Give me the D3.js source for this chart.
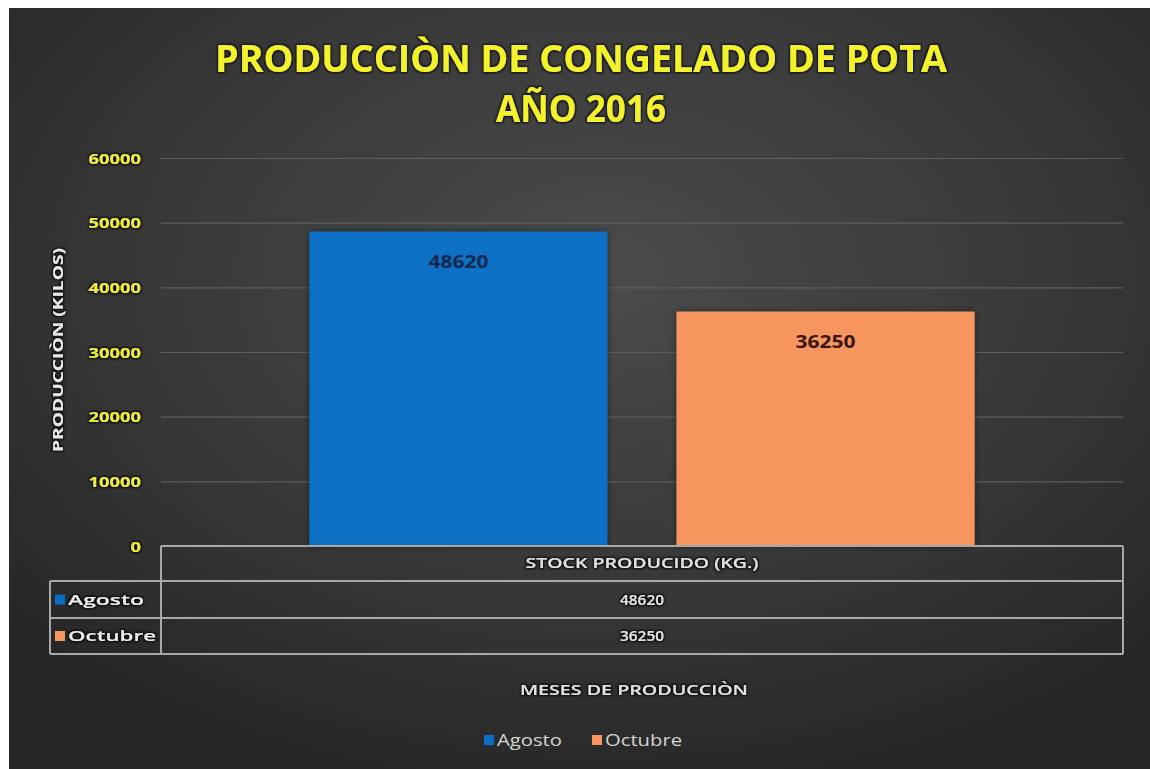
<!DOCTYPE html>
<html>
<head>
<meta charset="utf-8">
<script src="https://cdn.jsdelivr.net/npm/d3@7"></script>
<style>
  html, body { margin: 0; padding: 0; background: #ffffff; }
  svg { display: block; }
  text { font-family: "Open Sans", "DejaVu Sans", sans-serif; }
</style>
</head>
<body>
<svg id="chart" width="1150" height="769"></svg>
<script>
// Chart data
const titleLines = ["PRODUCCIÒN DE CONGELADO DE POTA", "AÑO 2016"];
const category = ["STOCK PRODUCIDO (KG.)"];
const seriesNames = ["Agosto", "Octubre"];
const seriesValues = [48620, 36250];
const seriesColors = ["#0a6fc4", "#f7955f"];
const labelColors = ["#13294d", "#3a1606"];
const yTicks = [0, 10000, 20000, 30000, 40000, 50000, 60000];
const yTitle = "PRODUCCIÒN (KILOS)";
const xTitle = "MESES DE PRODUCCIÒN";

const svg = d3.select("#chart");
const defs = svg.append("defs");

// Dark radial backdrop
const grad = defs.append("radialGradient").attr("id", "bg")
  .attr("cx", "52%").attr("cy", "35%").attr("r", "70%");
grad.append("stop").attr("offset", "0%").attr("stop-color", "#4b4b4b");
grad.append("stop").attr("offset", "55%").attr("stop-color", "#393939");
grad.append("stop").attr("offset", "100%").attr("stop-color", "#262626");

// Soft dark outline for yellow and white text
const glow = defs.append("filter").attr("id", "glow")
  .attr("x", "-10%").attr("y", "-30%").attr("width", "120%").attr("height", "160%");
glow.append("feMorphology").attr("in", "SourceAlpha").attr("operator", "dilate").attr("radius", 1.2).attr("result", "d");
glow.append("feGaussianBlur").attr("in", "d").attr("stdDeviation", 1.2).attr("result", "b");
glow.append("feFlood").attr("flood-color", "#000000").attr("flood-opacity", 0.85);
glow.append("feComposite").attr("in2", "b").attr("operator", "in").attr("result", "s");
const gm = glow.append("feMerge");
gm.append("feMergeNode").attr("in", "s");
gm.append("feMergeNode").attr("in", "SourceGraphic");

// Bar shadow
const shadow = defs.append("filter").attr("id", "shadow")
  .attr("x", "-10%").attr("y", "-10%").attr("width", "120%").attr("height", "120%");
shadow.append("feGaussianBlur").attr("in", "SourceAlpha").attr("stdDeviation", 3).attr("result", "b");
shadow.append("feFlood").attr("flood-color", "#000").attr("flood-opacity", 0.5);
shadow.append("feComposite").attr("in2", "b").attr("operator", "in").attr("result", "s");
const sm = shadow.append("feMerge");
sm.append("feMergeNode").attr("in", "s");
sm.append("feMergeNode").attr("in", "SourceGraphic");

svg.append("rect").attr("x", 9).attr("y", 8).attr("width", 1141).attr("height", 761)
  .attr("fill", "url(#bg)");

// Title
svg.selectAll("text.title").data(titleLines).join("text")
  .attr("class", "title")
  .attr("x", 581).attr("y", (d, i) => 72 + i * 50)
  .attr("text-anchor", "middle")
  .attr("font-size", 37).attr("font-weight", 700)
  .attr("fill", "#f4f22c")
  .attr("filter", "url(#glow)")
  .attr("textLength", (d, i) => i === 0 ? 732 : 170)
  .attr("lengthAdjust", "spacingAndGlyphs")
  .text(d => d);

// Plot geometry
const plot = { left: 161, right: 1123, top: 158, bottom: 546 };

const y = d3.scaleLinear().domain([0, 60000]).range([plot.bottom, plot.top]);
const x0 = d3.scaleBand().domain(category).range([plot.left, plot.right]).paddingInner(0).paddingOuter(0.223);
const x1 = d3.scaleBand().domain(seriesNames).range([0, x0.bandwidth()]).paddingInner(0.188).paddingOuter(0);

// Gridlines
const yAxis = d3.axisLeft(y).tickValues(yTicks).tickSize(-(plot.right - plot.left)).tickFormat(d => d);
const ga = svg.append("g").attr("transform", `translate(${plot.left},0)`).call(yAxis);
ga.select(".domain").remove();
ga.selectAll(".tick line").attr("stroke", "#5c5c5c").attr("stroke-width", 1.2)
  .filter(d => d === 0).remove();
ga.selectAll(".tick text")
  .attr("x", -20).attr("dy", "0.35em")
  .attr("font-size", 15).attr("font-weight", 700)
  .attr("fill", "#eded3a").attr("filter", "url(#glow)")
  .attr("font-family", "'Open Sans', sans-serif")
  .attr("textLength", d => String(d).length * 10.5)
  .attr("lengthAdjust", "spacingAndGlyphs");

// Y axis title
svg.append("text")
  .attr("transform", `translate(63,350) rotate(-90)`)
  .attr("text-anchor", "middle")
  .attr("font-size", 15).attr("font-weight", 700)
  .attr("fill", "#e6e6e6").attr("filter", "url(#glow)")
  .attr("textLength", 204).attr("lengthAdjust", "spacingAndGlyphs")
  .text(yTitle);

// Bars
const bars = svg.append("g");
seriesNames.forEach((s, i) => {
  const bx = x0(category[0]) + x1(s);
  bars.append("rect")
    .attr("x", bx).attr("y", y(seriesValues[i]))
    .attr("width", x1.bandwidth()).attr("height", y(0) - y(seriesValues[i]))
    .attr("fill", seriesColors[i]).attr("filter", "url(#shadow)");
  bars.append("text")
    .attr("x", bx + x1.bandwidth() / 2).attr("y", y(seriesValues[i]) + 36)
    .attr("text-anchor", "middle")
    .attr("font-size", 17).attr("font-weight", 700)
    .attr("fill", labelColors[i])
    .attr("textLength", 60).attr("lengthAdjust", "spacingAndGlyphs")
    .text(seriesValues[i]);
});

// Data table
const rowH = [35, 37, 36];
const rowY = [plot.bottom, plot.bottom + rowH[0], plot.bottom + rowH[0] + rowH[1]];
const tableBottom = rowY[2] + rowH[2];
const legendLeft = 50;
const tbl = svg.append("g").attr("stroke", "#a8a8a8").attr("stroke-width", 2).attr("fill", "none");
tbl.append("line").attr("x1", plot.left).attr("x2", plot.right).attr("y1", rowY[0]).attr("y2", rowY[0]);
tbl.append("line").attr("x1", legendLeft).attr("x2", plot.right).attr("y1", rowY[1]).attr("y2", rowY[1]);
tbl.append("line").attr("x1", legendLeft).attr("x2", plot.right).attr("y1", rowY[2]).attr("y2", rowY[2]);
tbl.append("line").attr("x1", legendLeft).attr("x2", plot.right).attr("y1", tableBottom).attr("y2", tableBottom);
tbl.append("line").attr("x1", plot.left).attr("x2", plot.left).attr("y1", rowY[0]).attr("y2", tableBottom);
tbl.append("line").attr("x1", plot.right).attr("x2", plot.right).attr("y1", rowY[0]).attr("y2", tableBottom);
tbl.append("line").attr("x1", legendLeft).attr("x2", legendLeft).attr("y1", rowY[1]).attr("y2", tableBottom);

const cx = (plot.left + plot.right) / 2;
svg.append("text")
  .attr("x", cx).attr("y", rowY[0] + rowH[0] / 2).attr("dy", "0.35em")
  .attr("text-anchor", "middle").attr("font-size", 14).attr("font-weight", 600)
  .attr("fill", "#e2e2e2").attr("filter", "url(#glow)")
  .attr("textLength", 233).attr("lengthAdjust", "spacingAndGlyphs")
  .text(category[0]);

seriesNames.forEach((s, i) => {
  const ry = rowY[i + 1] + rowH[i + 1] / 2;
  svg.append("text")
    .attr("x", cx).attr("y", ry).attr("dy", "0.35em")
    .attr("text-anchor", "middle").attr("font-size", 15).attr("font-weight", 600)
    .attr("fill", "#e2e2e2").attr("filter", "url(#glow)")
    .attr("textLength", 44).attr("lengthAdjust", "spacingAndGlyphs")
    .text(seriesValues[i]);
  svg.append("rect")
    .attr("x", 55).attr("y", ry - 5).attr("width", 10).attr("height", 10)
    .attr("fill", seriesColors[i]);
  svg.append("text")
    .attr("x", 68).attr("y", ry).attr("dy", "0.35em")
    .attr("font-size", 15).attr("font-weight", 600)
    .attr("fill", "#ececec").attr("filter", "url(#glow)")
    .attr("textLength", i === 0 ? 76 : 88).attr("lengthAdjust", "spacingAndGlyphs")
    .text(s);
});

// X axis title
svg.append("text")
  .attr("x", 634).attr("y", 690).attr("dy", "0.35em")
  .attr("text-anchor", "middle").attr("font-size", 14).attr("font-weight", 600)
  .attr("fill", "#e2e2e2").attr("filter", "url(#glow)")
  .attr("textLength", 228).attr("lengthAdjust", "spacingAndGlyphs")
  .text(xTitle);

// Legend
const legendX = [484, 592];
const legendW = [65, 77];
seriesNames.forEach((s, i) => {
  const g = svg.append("g").attr("transform", `translate(${legendX[i]},740)`);
  g.append("rect").attr("x", 0).attr("y", -5).attr("width", 10).attr("height", 10).attr("fill", seriesColors[i]);
  g.append("text").attr("x", 13).attr("y", 0).attr("dy", "0.35em")
    .attr("font-size", 16).attr("fill", "#d4d4d4")
    .attr("textLength", legendW[i]).attr("lengthAdjust", "spacingAndGlyphs")
    .text(s);
});
</script>
</body>
</html>
